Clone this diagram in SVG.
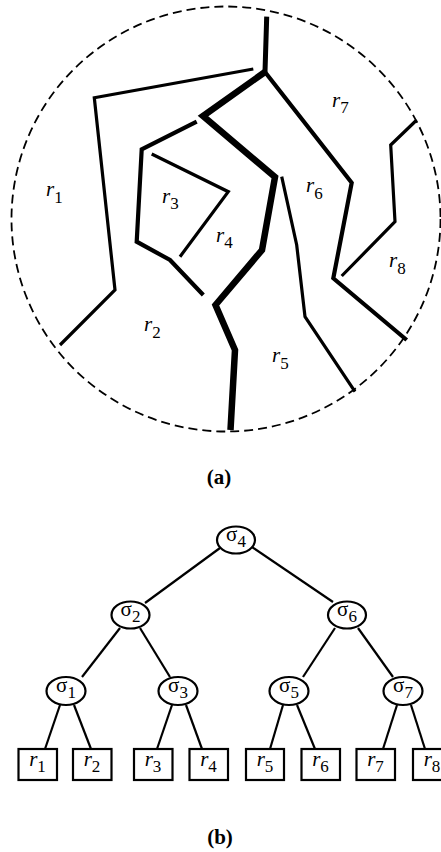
<svg xmlns="http://www.w3.org/2000/svg" width="441" height="852" viewBox="0 0 441 852">
  <style>
    .bound { fill: none; stroke: #000; stroke-dasharray: 9 5; stroke-width: 1.8; }
    .cut { fill: none; stroke: #000; stroke-linejoin: miter; stroke-linecap: butt; }
    .w3 { stroke-width: 3.2; }
    .w4 { stroke-width: 4.2; }
    .w5 { stroke-width: 5; }
    .w6 { stroke-width: 6.5; }
    .lbl { font-family: "Liberation Serif", "Times New Roman", serif; font-size: 21px; fill: #000; }
    .it { font-style: italic; }
    .sub { font-size: 17px; font-style: normal; }
    .cap { font-family: "Liberation Serif", "Times New Roman", serif; font-size: 21px; font-weight: bold; fill: #000; }
    .edge { stroke: #000; stroke-width: 2.2; fill: none; }
    .inner { fill: #fff; stroke: #000; stroke-width: 2.2; }
    .leaf { fill: #fff; stroke: #000; stroke-width: 2.2; }
  </style>

  <!-- (a) planar subdivision inside a disc -->
  <g id="subdivision">
    <ellipse class="bound" cx="226" cy="219" rx="214.5" ry="212.5"/>
    <polyline class="cut w3" points="253.3,69 94.3,97.7 115,290 60,345"/>
    <polyline class="cut w5" points="266.7,16.7 265,72"/>
    <polyline class="cut w6" points="265,72 203,116 275,177 262,250 215.5,305 235,350 230.5,430"/>
    <polyline class="cut w4" points="265,72 351.7,182.7 333.3,278.3 406.7,340"/>
    <polyline class="cut w3" points="416.7,120 390.7,145 395,221.7 341.7,276"/>
    <polyline class="cut w4" points="196.7,121.7 141.7,149.3 136.7,241.7 170,260 203.3,295"/>
    <polyline class="cut w3" points="151.7,154 228.3,191.7 180,256.7"/>
    <polyline class="cut w3" points="281.7,176.7 296.7,245 305,316.7 355,391.7"/>

    <text class="lbl it" x="46" y="196">r<tspan class="sub" dy="7">1</tspan></text>
    <text class="lbl it" x="144" y="331">r<tspan class="sub" dy="7">2</tspan></text>
    <text class="lbl it" x="162" y="203">r<tspan class="sub" dy="6">3</tspan></text>
    <text class="lbl it" x="216" y="242">r<tspan class="sub" dy="6">4</tspan></text>
    <text class="lbl it" x="272" y="362">r<tspan class="sub" dy="7">5</tspan></text>
    <text class="lbl it" x="306" y="192">r<tspan class="sub" dy="7">6</tspan></text>
    <text class="lbl it" x="332" y="107">r<tspan class="sub" dy="6">7</tspan></text>
    <text class="lbl it" x="389" y="267">r<tspan class="sub" dy="7">8</tspan></text>
  </g>
  <text class="cap" x="219" y="484" text-anchor="middle">(a)</text>

  <!-- (b) search tree -->
  <g id="connectors">
    <line class="edge" x1="220" y1="548" x2="145" y2="603"/>
    <line class="edge" x1="252" y1="547" x2="333" y2="602"/>
    <line class="edge" x1="120" y1="628" x2="82" y2="677"/>
    <line class="edge" x1="140" y1="628" x2="170" y2="677"/>
    <line class="edge" x1="335" y1="628" x2="303" y2="677"/>
    <line class="edge" x1="358" y1="628" x2="393" y2="677"/>
    <line class="edge" x1="60" y1="705" x2="45" y2="749"/>
    <line class="edge" x1="74" y1="705" x2="91" y2="749"/>
    <line class="edge" x1="172" y1="705" x2="157" y2="749"/>
    <line class="edge" x1="186" y1="705" x2="202" y2="749"/>
    <line class="edge" x1="283" y1="705" x2="270" y2="749"/>
    <line class="edge" x1="297" y1="705" x2="315" y2="749"/>
    <line class="edge" x1="397" y1="705" x2="383" y2="749"/>
    <line class="edge" x1="411" y1="705" x2="425" y2="749"/>
  </g>

  <g id="sigma4"><ellipse class="inner" cx="236" cy="540" rx="19" ry="13.5"/><text class="lbl" x="236" y="541" text-anchor="middle">σ<tspan class="sub" dy="6">4</tspan></text></g>
  <g id="sigma2"><ellipse class="inner" cx="130.5" cy="615" rx="19" ry="13.5"/><text class="lbl" x="130.5" y="616" text-anchor="middle">σ<tspan class="sub" dy="6">2</tspan></text></g>
  <g id="sigma6"><ellipse class="inner" cx="347" cy="615" rx="19" ry="13.5"/><text class="lbl" x="347" y="616" text-anchor="middle">σ<tspan class="sub" dy="6">6</tspan></text></g>
  <g id="sigma1"><ellipse class="inner" cx="66" cy="691" rx="19.5" ry="14"/><text class="lbl" x="66" y="692" text-anchor="middle">σ<tspan class="sub" dy="6">1</tspan></text></g>
  <g id="sigma3"><ellipse class="inner" cx="178" cy="691" rx="19.5" ry="14"/><text class="lbl" x="178" y="692" text-anchor="middle">σ<tspan class="sub" dy="6">3</tspan></text></g>
  <g id="sigma5"><ellipse class="inner" cx="289" cy="691" rx="19.5" ry="14"/><text class="lbl" x="289" y="692" text-anchor="middle">σ<tspan class="sub" dy="6">5</tspan></text></g>
  <g id="sigma7"><ellipse class="inner" cx="403" cy="691" rx="19.5" ry="14"/><text class="lbl" x="403" y="692" text-anchor="middle">σ<tspan class="sub" dy="6">7</tspan></text></g>

  <g id="leaf-r1"><rect class="leaf" x="18.5" y="749" width="38.5" height="31"/><text class="lbl it" x="37.5" y="766" text-anchor="middle">r<tspan class="sub" dy="6">1</tspan></text></g>
  <g id="leaf-r2"><rect class="leaf" x="73" y="749" width="38.5" height="31"/><text class="lbl it" x="92" y="766" text-anchor="middle">r<tspan class="sub" dy="6">2</tspan></text></g>
  <g id="leaf-r3"><rect class="leaf" x="134" y="749" width="38.5" height="31"/><text class="lbl it" x="153" y="766" text-anchor="middle">r<tspan class="sub" dy="6">3</tspan></text></g>
  <g id="leaf-r4"><rect class="leaf" x="189.5" y="749" width="38.5" height="31"/><text class="lbl it" x="208.5" y="766" text-anchor="middle">r<tspan class="sub" dy="6">4</tspan></text></g>
  <g id="leaf-r5"><rect class="leaf" x="246" y="749" width="38" height="31"/><text class="lbl it" x="265" y="766" text-anchor="middle">r<tspan class="sub" dy="6">5</tspan></text></g>
  <g id="leaf-r6"><rect class="leaf" x="301.5" y="749" width="38.5" height="31"/><text class="lbl it" x="320.5" y="766" text-anchor="middle">r<tspan class="sub" dy="6">6</tspan></text></g>
  <g id="leaf-r7"><rect class="leaf" x="356.5" y="749" width="38.5" height="31"/><text class="lbl it" x="375.5" y="766" text-anchor="middle">r<tspan class="sub" dy="6">7</tspan></text></g>
  <g id="leaf-r8"><rect class="leaf" x="413" y="749" width="38.5" height="31"/><text class="lbl it" x="432" y="766" text-anchor="middle">r<tspan class="sub" dy="6">8</tspan></text></g>

  <text class="cap" x="220" y="844" text-anchor="middle">(b)</text>
</svg>
